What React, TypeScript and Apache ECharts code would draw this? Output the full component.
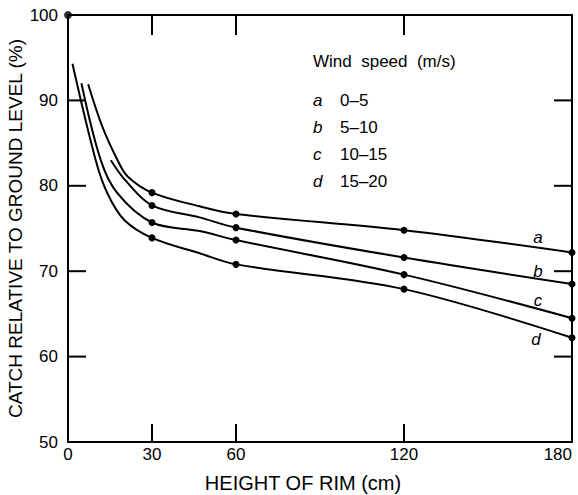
import React, { useEffect, useRef } from "react";
import * as echarts from "echarts";

// Rim heights (cm) with marked observations
const heights = [30, 60, 120, 180];
const catchA = [79.2, 76.7, 74.8, 72.2];
const catchB = [77.7, 75.1, 71.6, 68.5];
const catchC = [75.7, 73.65, 69.6, 64.5];
const catchD = [73.9, 70.8, 67.9, 62.2];

// Unmarked points
const traceA = [[7.2, 91.9], [12.3, 86.9], [17.7, 83.0], [21.3, 81.1], [47, 77.6]];
const traceB = [[15.3, 83.0], [20.6, 80.6], [47, 76.3]];
const traceC = [[4.8, 92.0], [11.7, 83.0], [17.7, 79.1], [47, 74.7]];
const traceD = [[1.6, 94.3], [9.9, 83.0], [14.1, 79.1], [20.1, 76.0], [47, 72.1]];

const groundPoint = [[0, 100]];

const xLabelValues = [0, 30, 60, 120, 180];
const xTickValues = [30, 60, 120];
const yLabelValues = [50, 60, 70, 80, 90, 100];
const yTickValues = [60, 70, 80, 90];

const curveKeys = ["a", "b", "c", "d"];
const legendTitle = "Wind  speed  (m/s)";
const legendRanges = ["0–5", "5–10", "10–15", "15–20"];

const FONT = "'Liberation Sans', Arial, sans-serif";

const WIDTH = 578;
const HEIGHT = 495;
const GRID = { left: 68, right: 6, top: 15, bottom: 53 };
const X_MIN = 0;
const X_MAX = 180;
const Y_MIN = 50;
const Y_MAX = 100;

export default function App() {
  const ref = useRef<HTMLDivElement>(null);

  useEffect(() => {
    if (!ref.current) return;
    const chart = echarts.init(ref.current, null, { renderer: "svg" });

    const labelOffsets: number[][] = [[-34, -15], [-34, -13], [-34, -18], [-36, 2]];
    const allVals = [catchA, catchB, catchC, catchD];
    const allTraces = [traceA, traceB, traceC, traceD];

    const lineSeries = curveKeys.map((key, si) => {
      const marked = heights.map((h, i) => ({
        value: [h, allVals[si][i]],
        label:
          i === heights.length - 1
            ? {
                show: true,
                formatter: key,
                position: "inside",
                offset: labelOffsets[si],
                fontStyle: "italic",
                fontSize: 17,
                fontFamily: FONT,
                color: "#000",
              }
            : undefined,
      }));
      const traced = allTraces[si].map((p) => ({ value: p, symbol: "none" }));
      const data = [...marked, ...traced].sort((p, q) => p.value[0] - q.value[0]);
      return {
        type: "line",
        name: key,
        data,
        smooth: 0.35,
        clip: false,
        symbol: "circle",
        symbolSize: 7,
        showAllSymbol: true,
        itemStyle: { color: "#000" },
        lineStyle: { color: "#000", width: 2 },
        z: 3,
      };
    });

    // Inward tick marks drawn as thin rect symbols anchored on each axis
    const tickSpec = (data: number[][], size: number[], offset: number[]) => ({
      type: "scatter",
      data,
      symbol: "rect",
      symbolSize: size,
      symbolOffset: offset,
      clip: false,
      silent: true,
      itemStyle: { color: "#000", opacity: 1 },
      z: 6,
    });
    const tickSeries = [
      tickSpec(xTickValues.map((v) => [v, Y_MIN]), [2, 18], [0, -9]),
      tickSpec(xTickValues.map((v) => [v, Y_MAX]), [2, 20], [0, 10]),
      tickSpec(yTickValues.map((v) => [X_MIN, v]), [18, 2], [9, 0]),
      tickSpec(yTickValues.map((v) => [X_MAX, v]), [18, 2], [-9, 0]),
    ];

    const axisLineStyle = { color: "#000", width: 2 };

    const legendGraphics: any[] = [
      {
        type: "text",
        x: 313,
        y: 61,
        style: { text: legendTitle, font: `17px ${FONT}`, fill: "#000", verticalAlign: "middle" },
      },
    ];
    curveKeys.forEach((k, i) => {
      const y = 100 + i * 27;
      legendGraphics.push({
        type: "text",
        x: 313,
        y,
        style: { text: k, font: `italic 17px ${FONT}`, fill: "#000", verticalAlign: "middle" },
      });
      legendGraphics.push({
        type: "text",
        x: 340,
        y,
        style: { text: legendRanges[i], font: `17px ${FONT}`, fill: "#000", verticalAlign: "middle" },
      });
    });

    chart.setOption({
      animation: false,
      backgroundColor: "#fff",
      grid: { ...GRID, containLabel: false, outerBoundsMode: "none" },
      xAxis: [
        {
          type: "value",
          min: X_MIN,
          max: X_MAX,
          position: "bottom",
          axisLine: { show: true, onZero: false, lineStyle: axisLineStyle },
          axisTick: { show: false },
          axisLabel: {
            customValues: xLabelValues,
            color: "#000",
            fontSize: 17,
            fontFamily: FONT,
            margin: 4,
            alignMaxLabel: "right",
          },
          splitLine: { show: false },
          name: "HEIGHT OF RIM (cm)",
          nameLocation: "middle",
          nameGap: 31,
          nameMoveOverlap: false,
          nameTextStyle: { color: "#000", fontSize: 20, fontFamily: FONT, padding: [0, 34, 0, 0] },
        },
        {
          type: "value",
          min: X_MIN,
          max: X_MAX,
          position: "top",
          axisLine: { show: true, onZero: false, lineStyle: axisLineStyle },
          axisTick: { show: false },
          axisLabel: { show: false },
          splitLine: { show: false },
        },
      ],
      yAxis: [
        {
          type: "value",
          min: Y_MIN,
          max: Y_MAX,
          interval: 10,
          position: "left",
          axisLine: { show: true, onZero: false, lineStyle: axisLineStyle },
          axisTick: { show: false },
          axisLabel: { customValues: yLabelValues, color: "#000", fontSize: 17, fontFamily: FONT, margin: 10 },
          splitLine: { show: false },
          name: "CATCH RELATIVE TO GROUND LEVEL (%)",
          nameLocation: "middle",
          nameGap: 43,
          nameMoveOverlap: false,
          nameTextStyle: { color: "#000", fontSize: 19, fontFamily: FONT },
        },
        {
          type: "value",
          min: Y_MIN,
          max: Y_MAX,
          interval: 10,
          position: "right",
          axisLine: { show: true, onZero: false, lineStyle: axisLineStyle },
          axisTick: { show: false },
          axisLabel: { show: false },
          splitLine: { show: false },
        },
      ],
      series: [
        ...lineSeries,
        ...tickSeries,
        {
          type: "scatter",
          data: groundPoint,
          symbol: "circle",
          symbolSize: 8,
          clip: false,
          itemStyle: { color: "#000" },
          z: 5,
        },
      ],
      graphic: legendGraphics,
    });

    return () => chart.dispose();
  }, []);

  return (
    <div
      ref={ref}
      style={{ position: "fixed", left: 0, top: 0, width: WIDTH, height: HEIGHT, background: "#fff" }}
    />
  );
}
